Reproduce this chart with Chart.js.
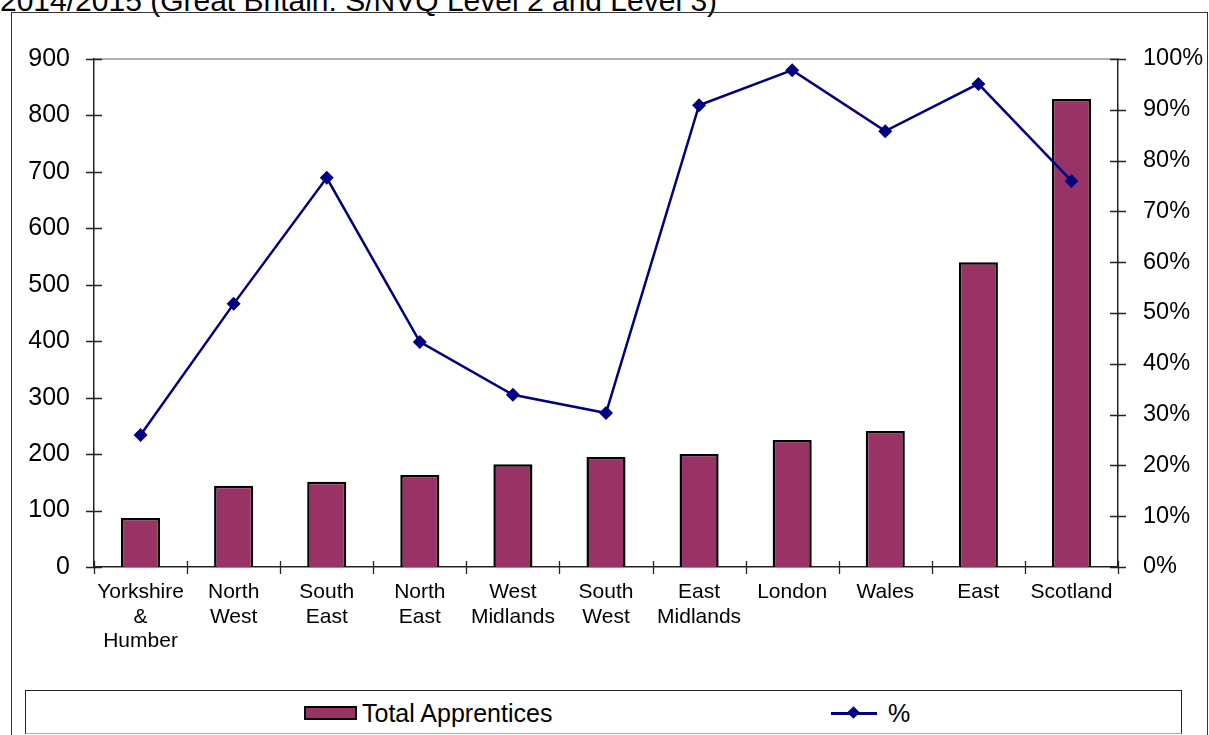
<!DOCTYPE html>
<html lang="en">
<head>
  <meta charset="UTF-8" />
  <title>Total Apprentices by region</title>
  <script src="https://cdn.jsdelivr.net/npm/chart.js"></script>
  <style>
    body {
      margin: 0;
      width: 1209px;
      height: 735px;
      overflow: hidden;
      background: #fff;
      font-family: "Liberation Sans", Arial, sans-serif;
      position: relative;
    }
    .title {
      position: absolute;
      left: 0;
      top: -14px;
      font-size: 30px;
      line-height: 1;
      white-space: nowrap;
      color: #000;
    }
    .frame {
      position: absolute;
      left: 11px;
      top: 12px;
      width: 1195px;
      height: 740px;
      border: 1.5px solid #333;
    }
    .chart-wrap {
      position: absolute;
      left: 0;
      top: 0;
      width: 1209px;
      height: 735px;
    }
    /* legenda em HTML, caixa igual ao original */
    .legend {
      position: absolute;
      left: 25px;
      top: 690px;
      width: 1155px;
      height: 42px;
      border: 1.5px solid #222;
      border-bottom-color: #aaa;
      background: #fff;
      font-size: 25px;
    }
    .legend .item {
      position: absolute;
      top: 8px;
      line-height: 28px;
      white-space: nowrap;
    }
    .swatch {
      display: inline-block;
      width: 49px;
      height: 10px;
      background: #993366;
      border: 2px solid #000;
      vertical-align: middle;
      margin-right: 5px;
      position: relative;
      top: -2px;
    }
    .lineswatch {
      display: inline-block;
      position: relative;
      width: 46px;
      height: 28px;
      vertical-align: top;
      margin-right: 11px;
    }
    .lineswatch:before {
      content: "";
      position: absolute;
      left: 0; right: 0; top: 13px;
      height: 2.5px;
      background: #000080;
    }
    .lineswatch:after {
      content: "";
      position: absolute;
      left: 18px; top: 9px;
      width: 9px; height: 9px;
      background: #000080;
      transform: rotate(45deg);
    }
  </style>
</head>
<body>
  <div class="title">2014/2015 (Great Britain: S/NVQ Level 2 and Level 3)</div>
  <div class="frame"></div>
  <div class="chart-wrap">
    <canvas id="myChart" width="1209" height="735"></canvas>
  </div>
  <div class="legend">
    <div class="item" style="left:278px"><span class="swatch"></span>Total Apprentices</div>
    <div class="item" style="left:805px"><span class="lineswatch"></span>%</div>
  </div>

  <script>
    // ---------------------
    // dados
    // ---------------------
    const regions = [
      ['Yorkshire', '&', 'Humber'],
      ['North', 'West'],
      ['South', 'East'],
      ['North', 'East'],
      ['West', 'Midlands'],
      ['South', 'West'],
      ['East', 'Midlands'],
      'London',
      'Wales',
      'East',
      'Scotland'
    ];
    const totalApprentices = [87, 144, 151, 163, 182, 195, 200, 225, 241, 540, 829];
    const percentValues = [26, 51.8, 76.6, 44.3, 33.9, 30.3, 90.9, 97.8, 85.8, 95.1, 76];
    const leftTicks = [0, 900, 100];   // min, max, passo
    const rightTicks = [0, 100, 10];

    const FONT = '"Liberation Sans", Arial, sans-serif';

    // ticks cruzando o eixo (estilo Excel) + borda superior cinza
    const crossTicks = {
      id: 'crossTicks',
      afterDraw(chart) {
        const c = chart.ctx;
        const a = chart.chartArea;
        const y = chart.scales.y, y1 = chart.scales.y1, x = chart.scales.x;
        c.save();
        c.strokeStyle = '#999';
        c.lineWidth = 1.5;
        c.beginPath();
        c.moveTo(a.left, a.top);
        c.lineTo(a.right, a.top);
        c.stroke();

        c.strokeStyle = '#222';
        c.lineWidth = 1.3;
        c.beginPath();
        y.ticks.forEach(t => {
          const py = Math.round(y.getPixelForValue(t.value)) + 0.5;
          c.moveTo(a.left - 8, py); c.lineTo(a.left + 8, py);
        });
        y1.ticks.forEach(t => {
          const py = Math.round(y1.getPixelForValue(t.value)) + 0.5;
          c.moveTo(a.right - 8, py); c.lineTo(a.right + 8, py);
        });
        const n = regions.length;
        for (let i = 0; i <= n; i++) {
          const px = Math.round(x.getPixelForValue(i - 0.5)) + 0.5;
          c.moveTo(px, a.bottom - 6); c.lineTo(px, a.bottom + 7);
        }
        c.stroke();
        c.restore();
      }
    };

    const ctx = document.getElementById('myChart').getContext('2d');

    new Chart(ctx, {
      data: {
        labels: regions,
        datasets: [{
          type: 'line',
          label: '%',
          yAxisID: 'y1',
          data: percentValues,
          borderColor: '#000080',
          backgroundColor: '#000080',
          borderWidth: 2.5,
          pointStyle: 'rectRot',
          pointRadius: 7,
          pointBorderWidth: 0,
          tension: 0,
          order: 0
        }, {
          type: 'bar',
          label: 'Total Apprentices',
          yAxisID: 'y',
          data: totalApprentices,
          backgroundColor: '#993366',
          borderColor: '#000',
          borderWidth: 2.5,
          barPercentage: 0.42,
          categoryPercentage: 1,
          order: 1
        }]
      },
      options: {
        responsive: false,
        animation: false,
        layout: { padding: { top: 59, left: 0, right: 0, bottom: 0 } },
        scales: {
          x: {
            offset: true,
            grid: { display: false, drawTicks: false },
            border: { display: true, color: '#222', width: 1.5 },
            ticks: {
              color: '#000',
              font: { family: FONT, size: 21, lineHeight: 1.17 },
              padding: 13,
              maxRotation: 0,
              autoSkip: false
            },
            afterFit(s) { s.height = 168; }
          },
          y: {
            position: 'left',
            min: leftTicks[0],
            max: leftTicks[1],
            grid: { display: false, drawTicks: false },
            border: { display: true, color: '#222', width: 1.5 },
            ticks: {
              stepSize: leftTicks[2],
              color: '#000',
              font: { family: FONT, size: 25 },
              padding: 24
            },
            afterFit(s) { s.width = 94; }
          },
          y1: {
            position: 'right',
            min: rightTicks[0],
            max: rightTicks[1],
            grid: { display: false, drawTicks: false },
            border: { display: true, color: '#222', width: 1.5 },
            ticks: {
              stepSize: rightTicks[2],
              color: '#000',
              font: { family: FONT, size: 23.5 },
              padding: 25,
              callback: v => v + '%'
            },
            afterFit(s) { s.width = 91; }
          }
        },
        plugins: {
          legend: { display: false },
          tooltip: { enabled: false }
        }
      },
      plugins: [crossTicks]
    });
  </script>
</body>
</html>
